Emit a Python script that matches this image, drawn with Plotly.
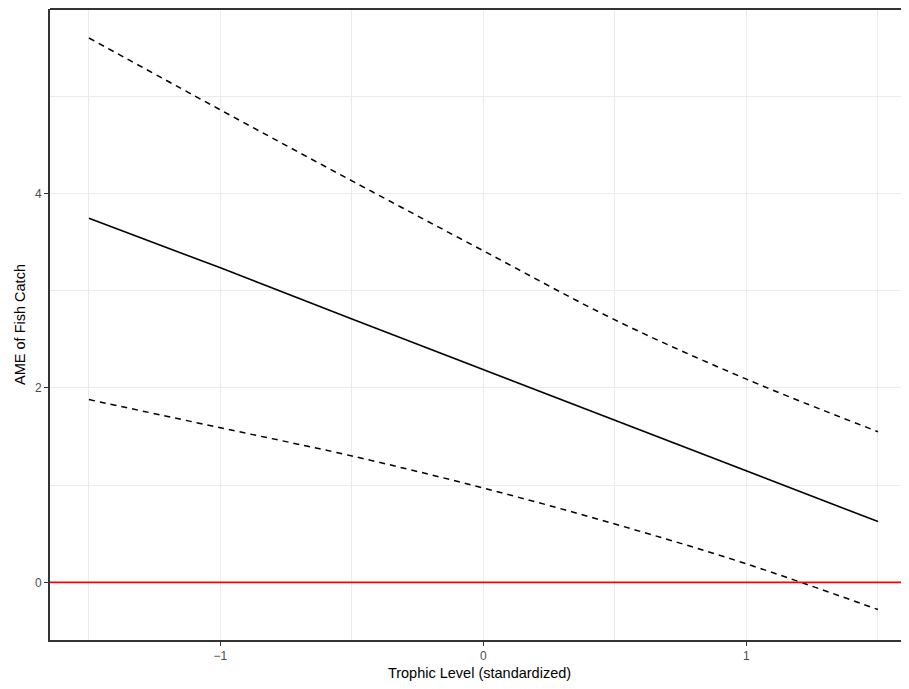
import plotly.graph_objects as go

# Data
x_vals = [-1.5, -1.0, -0.5, 0.0, 0.5, 1.0, 1.5]
ame = [3.745, 3.235, 2.71, 2.19, 1.67, 1.15, 0.625]
upper = [5.60, 4.86, 4.13, 3.41, 2.70, 2.09, 1.55]
lower = [1.88, 1.59, 1.30, 0.97, 0.60, 0.19, -0.28]
ref_line = 0.0

x_ticks = [-1, 0, 1]
x_tick_labels = ["\u22121", "0", "1"]
y_ticks = [0, 2, 4]
y_tick_labels = ["0", "2", "4"]

fig = go.Figure()
fig.add_trace(go.Scatter(x=x_vals, y=upper, mode="lines", line=dict(color="black", width=1.5, dash="6px,5px", shape="spline"), showlegend=False))
fig.add_trace(go.Scatter(x=x_vals, y=lower, mode="lines", line=dict(color="black", width=1.5, dash="6px,5px", shape="spline"), showlegend=False))
fig.add_trace(go.Scatter(x=x_vals, y=ame, mode="lines", line=dict(color="black", width=1.6), showlegend=False))
fig.add_hline(y=ref_line, line=dict(color="#FF0000", width=1.6), layer="above")

# panel border (top; right edge is cropped in the reference)
fig.add_shape(type="line", xref="paper", yref="paper", x0=0, x1=1, y0=1, y1=1, line=dict(color="#333333", width=1.8))

fig.update_layout(
    width=901, height=673,
    margin=dict(l=42, r=0, t=1, b=41),
    paper_bgcolor="white", plot_bgcolor="white",
    font=dict(family="Liberation Sans, Arial, sans-serif"),
)
fig.update_xaxes(
    range=[-1.648, 1.618], tickvals=x_ticks, ticktext=x_tick_labels,
    showgrid=True, gridcolor="#EBEBEB", gridwidth=1.1,
    minor=dict(showgrid=True, dtick=0.5, tick0=0.5, gridcolor="#EBEBEB", gridwidth=0.6),
    showline=True, linecolor="#333333", linewidth=1.8,
    ticks="outside", ticklen=4, tickcolor="#333333", tickwidth=1.1,
    tickfont=dict(size=12, color="#4D4D4D"),
    title=dict(text="Trophic Level (standardized)", font=dict(size=14.5, color="black"), standoff=9),
    zeroline=False,
)
fig.update_yaxes(
    range=[-0.593, 5.898], tickvals=y_ticks, ticktext=y_tick_labels,
    showgrid=True, gridcolor="#EBEBEB", gridwidth=1.1,
    minor=dict(showgrid=True, dtick=1, tick0=1, gridcolor="#EBEBEB", gridwidth=0.6),
    showline=True, linecolor="#333333", linewidth=1.8,
    ticks="outside", ticklen=4, tickcolor="#333333", tickwidth=1.1,
    tickfont=dict(size=12, color="#4D4D4D"),
    title=dict(text="AME of Fish Catch", font=dict(size=14.5, color="black"), standoff=6),
    zeroline=False,
)

fig.write_html("out.html")
